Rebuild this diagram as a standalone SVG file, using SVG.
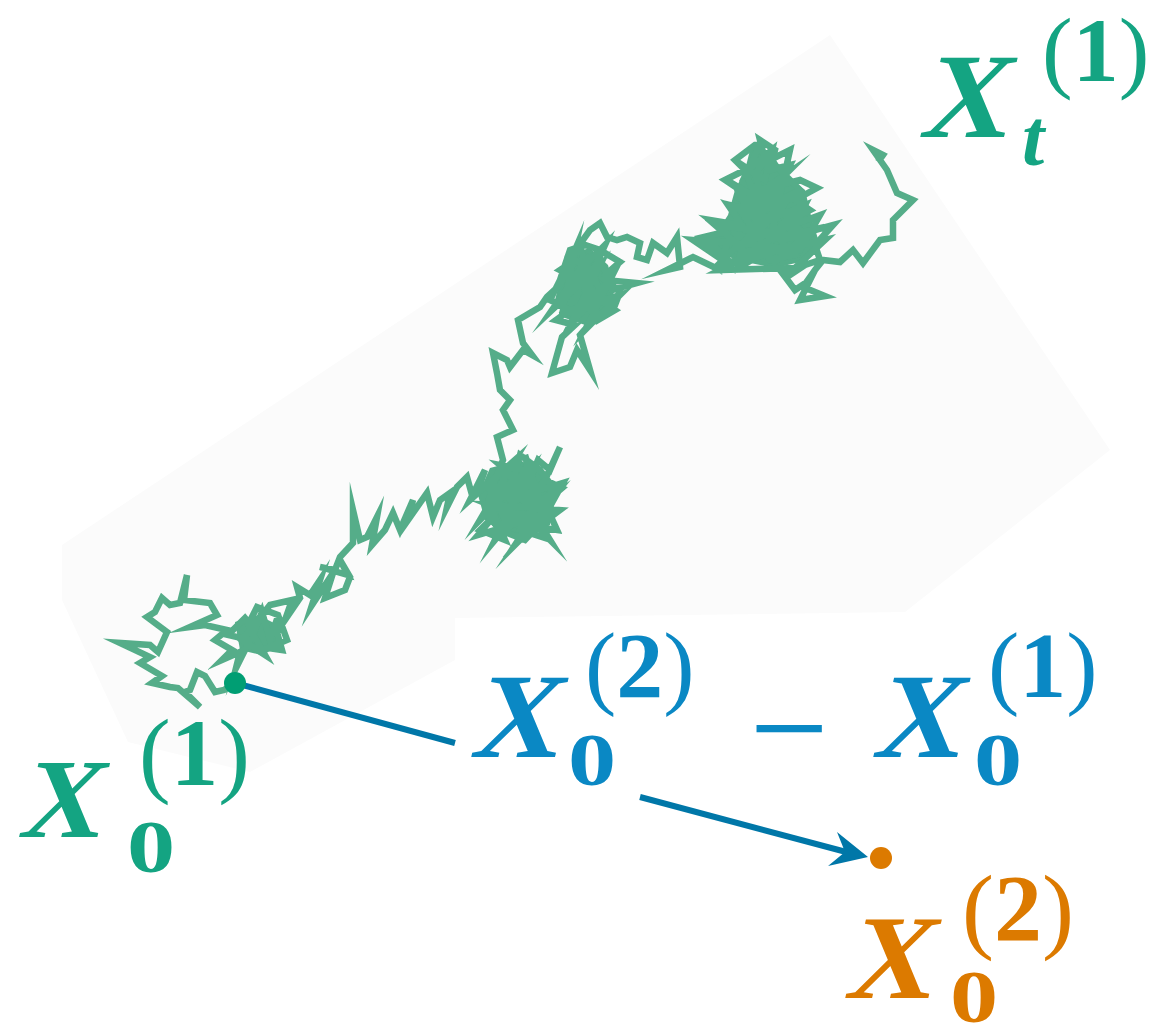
<svg xmlns="http://www.w3.org/2000/svg" width="1165" height="1031" viewBox="0 0 1165 1031">
<style>
.mx{font-family:"Liberation Serif","Times New Roman",serif;font-weight:bold;font-style:normal}
.it{font-family:"Liberation Serif","Times New Roman",serif;font-weight:bold;font-style:italic}
.up{font-family:"Liberation Serif","Times New Roman",serif;font-weight:normal;font-style:normal}
.bd{font-family:"Liberation Serif","Times New Roman",serif;font-weight:bold;font-style:normal}
.sub{font-family:"Liberation Serif","Times New Roman",serif;font-weight:bold;font-size:74px}
.g{fill:#14a482}
.b{fill:#0a88c4}
.o{fill:#dc7a00}
.walk{fill:none;stroke:#55ad89;stroke-width:6.5;stroke-linejoin:miter;stroke-miterlimit:12}
.core{fill:#55ad89}
</style>
<rect width="1165" height="1031" fill="#ffffff"/>
<polygon id="bg" points="62,545 830,35 995,280 1110,450 905,612 455,618 455,660 250,772 128,742 62,600" fill="#fbfbfb"/>
<g id="path1">
<polygon class="core" points="750,150 770,150 785,175 805,190 812,220 820,245 800,262 775,268 745,262 722,255 712,240 728,215 735,190 745,170"/>
<polygon class="core" points="565,255 590,248 608,265 615,290 605,315 585,325 565,318 555,300 560,280"/>
<polygon class="core" points="490,468 520,460 545,475 555,500 550,525 530,538 505,535 485,520 478,495"/>
<polygon class="core" points="235,622 258,615 278,625 282,645 262,655 240,650"/>
<polyline class="walk" points="235,683 224,690 215,692 205,676 197,672 190,690 185,692 200,707 178,688 170,687 152,683 162,676 140,663 150,657 120,643 150,645 158,652 167,632 147,617 155,612 162,598 170,605 180,603 187,575 184,600 210,603 217,615 190,627 205,625 227,630 215,640 232,650 222,660 240,652 236,668 250,640 228,635 245,618 255,630 262,612 270,640 275,625 282,650 268,648 287,640 278,615 257,607 248,625 265,655 242,640 270,605 292,600 285,620 300,598 297,587 310,595 320,580 312,605 333,573 325,598 345,590 350,577 340,560 348,575 320,567 335,570 340,557 353,543 353,510 360,540 367,537 377,517 372,545 385,530 393,513 400,530 413,500 408,520 427,493 433,517 440,500 450,493 447,507 457,487 467,477 472,495 477,493 485,470 470,500 515,460 480,520 530,470 495,540 545,480 505,530 555,495 520,540 560,510 490,505 540,525 510,475 550,540 500,490 535,500 525,455 545,515 478,535 495,515 480,530 505,540 490,505 515,478 500,465 525,470 510,495 535,505 520,530 545,538 530,510 555,490 540,470 520,455 512,485 490,490 505,520 528,525 515,545 540,520 548,500 562,488 545,480 560,447 550,470 538,460 523,495 563,483 548,510 557,530 537,527 525,540 500,530 485,512 495,480 503,460 497,437 513,430 503,410 510,400 500,390 497,373 493,353 507,360 510,367 523,350 532,355 523,343 518,320 540,307 547,297 560,285 575,250 565,300 590,255 552,310 600,265 570,325 610,280 585,330 620,295 560,315 595,300 575,275 605,245 585,290 615,310 598,320 580,245 565,270 550,300 570,310 556,320 575,325 562,337 552,373 570,367 577,350 590,370 580,335 595,318 585,300 600,290 590,270 575,260 560,270 580,280 600,262 610,280 598,300 615,305 620,292 605,280 637,283 612,290 605,275 620,262 600,250 585,245 570,250 565,265 590,230 600,223 607,237 617,240 627,237 640,243 637,257 647,260 653,243 667,253 677,237 680,267 667,270 693,257 720,270 727,243 693,240 715,255 700,238 725,232 710,220 740,225 730,205 750,210 740,190 725,180 745,170 735,160 755,145 760,145 748,170 772,150 765,180 742,165 755,195 785,175 760,200 735,185 750,215 790,195 775,220 728,205 745,230 805,205 790,235 715,225 738,245 820,215 800,250 708,240 730,262 825,240 795,268 720,270 760,250 790,215 745,200 780,185 752,230 800,190 770,160 790,150 770,240 812,230 775,262 740,210 765,205 755,175 765,160 760,140 775,150 770,170 790,165 780,185 800,180 817,188 795,200 810,210 790,220 805,235 780,240 795,255 770,260 760,245 740,255 745,240 765,225 750,215 770,205 760,190 785,200 775,215 795,210 780,230 760,235 735,248 718,265 735,270 755,258 780,250 800,245 815,230 833,225 815,245 820,260 805,265 790,275 780,270 795,290 810,280 800,300 825,296 803,287 815,270 823,260 840,262 853,250 863,263 880,240 893,238 893,220 913,200 897,193 887,170 880,160 873,150 883,155 878,162"/>
</g>
<g id="connectors">
<line x1="235" y1="683" x2="455" y2="743" stroke="#0077a8" stroke-width="6"/>
<line x1="640" y1="797" x2="850" y2="853" stroke="#0077a8" stroke-width="6"/>
<polygon points="868,857 828,866 845,852 837,832" fill="#0077a8"/>
</g>
<g id="start"><circle cx="235" cy="683" r="11" fill="#009e73"/></g>
<g id="end"><circle cx="881" cy="858" r="11" fill="#dc7a00"/></g>
<g id="label-xt">
<text class="mx g" font-size="121" transform="translate(918,137) skewX(-13)">X</text>
<text class="it g" font-size="80" x="1022" y="165">t</text>
<text class="up g" x="1042" y="81" font-size="92">(<tspan class="bd">1</tspan>)</text>
</g>
<g id="label-x01">
<text class="mx g" font-size="113" transform="translate(17,837) skewX(-13)">X</text>
<text class="sub g" transform="translate(127,872) scale(1.3,1)">0</text>
<text class="up g" x="139" y="785" font-size="95">(<tspan class="bd">1</tspan>)</text>
</g>
<g id="label-diff">
<text class="mx b" font-size="121" transform="translate(469,757) skewX(-13)">X</text>
<text class="sub b" transform="translate(568,785) scale(1.3,1)">0</text>
<text class="up b" x="585" y="697" font-size="94">(<tspan class="bd">2</tspan>)</text>
<text class="bd b" font-size="104" transform="translate(749,763) scale(1.35,1)">−</text>
<text class="mx b" font-size="121" transform="translate(871,757) skewX(-13)">X</text>
<text class="sub b" transform="translate(974,785) scale(1.3,1)">0</text>
<text class="up b" x="988" y="697" font-size="94">(<tspan class="bd">1</tspan>)</text>
</g>
<g id="label-x02">
<text class="mx o" font-size="120" transform="translate(843,998) skewX(-13)">X</text>
<text class="sub o" transform="translate(950,1022) scale(1.3,1)">0</text>
<text class="up o" x="962" y="941" font-size="96">(<tspan class="bd">2</tspan>)</text>
</g>
</svg>
